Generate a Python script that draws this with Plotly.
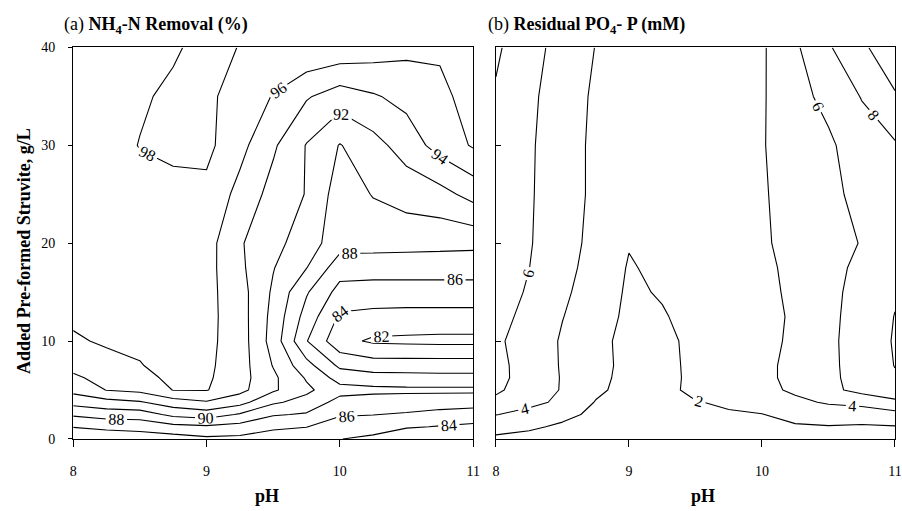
import plotly.graph_objects as go

# ---------------- data ----------------
PH = [8.0, 8.25, 8.5, 8.75, 9.0, 9.25, 9.5, 9.75, 10.0, 10.25, 10.5, 10.75, 11.0]
STRUVITE = [0, 1.25, 2.5, 3.75, 5, 6.25, 7.5, 10, 12.5, 15, 17.5, 20, 25, 30, 35, 40]
X_TICKS = [8, 9, 10, 11]
Y_TICKS = [0, 10, 20, 30, 40]

# (a) NH4-N removal (%) -- one list per struvite dose, values along PH
nh4_s0_00 = [84.3, 84.6, 84.9, 85.1, 85.6, 85.5, 85.2, 85.0, 84.05, 83.5, 82.5, 82.2, 82.1]
nh4_s1_25 = [86.1, 86.5, 86.7, 87.4, 87.7, 87.3, 86.3, 86.05, 85.0, 85.0, 84.2, 83.9, 83.6]
nh4_s2_50 = [88.3, 88.9, 89.0, 90.5, 91.0, 89.8, 88.2, 87.8, 86.2, 86.05, 85.8, 85.4, 85.1]
nh4_s3_75 = [90.7, 91.3, 91.8, 93.1, 93.8, 92.7, 90.3, 89.3, 87.3, 87.0, 87.0, 86.9, 86.8]
nh4_s5_00 = [92.6, 94.05, 94.5, 96.05, 96.1, 94.6, 92.3, 90.4, 88.7, 88.5, 88.4, 88.4, 88.4]
nh4_s6_25 = [93.7, 94.6, 95.3, 96.5, 96.3, 94.8, 92.4, 89.8, 87.2, 86.8, 86.7, 86.6, 86.6]
nh4_s7_50 = [94.5, 95.2, 95.9, 96.7, 96.4, 94.9, 91.9, 88.7, 85.6, 85.0, 85.0, 85.0, 85.0]
nh4_s10_0 = [95.7, 96.3, 96.4, 96.8, 96.5, 95.0, 91.2, 86.1, 82.6, 81.7, 81.6, 81.5, 81.5]
nh4_s12_5 = [96.4, 96.7, 96.7, 96.9, 96.6, 94.9, 91.4, 87.2, 83.7, 83.4, 83.3, 83.3, 83.3]
nh4_s15_0 = [96.7, 96.9, 96.9, 97.0, 96.6, 94.8, 91.7, 88.2, 85.3, 85.2, 85.2, 85.2, 85.2]
nh4_s17_5 = [96.9, 97.0, 97.0, 97.1, 96.7, 94.4, 92.1, 90.05, 86.9, 86.8, 86.8, 86.8, 86.8]
nh4_s20_0 = [97.0, 97.1, 97.1, 97.2, 96.8, 94.2, 92.6, 91.0, 88.8, 88.8, 88.7, 88.6, 88.5]
nh4_s25_0 = [97.2, 97.3, 97.5, 97.6, 97.5, 95.4, 93.3, 91.9, 89.0, 90.1, 90.8, 91.3, 92.7]
nh4_s30_0 = [97.3, 97.4, 98.05, 98.3, 98.5, 96.6, 94.3, 91.9, 89.9, 91.3, 92.9, 94.8, 96.2]
nh4_s35_0 = [97.4, 97.5, 97.8, 98.3, 98.4, 97.2, 95.9, 94.2, 93.0, 93.8, 94.6, 95.5, 96.8]
nh4_s40_0 = [97.5, 97.5, 97.6, 97.8, 98.5, 97.95, 97.5, 97.8, 97.5, 97.0, 96.5, 96.3, 97.0]

# (b) residual PO4-P (mM)
po4_s0_00 = [1.6, 1.4, 1.2, 1.0, 0.9, 0.9, 1.0, 1.1, 1.3, 1.4, 1.2, 1.2, 1.1]
po4_s1_25 = [2.8, 2.3, 1.7, 1.3, 1.0, 1.0, 1.2, 1.4, 1.6, 1.8, 1.9, 1.8, 1.9]
po4_s2_50 = [4.05, 3.5, 2.5, 1.6, 1.1, 1.1, 1.5, 1.8, 1.95, 2.6, 3.0, 2.9, 3.3]
po4_s3_75 = [5.4, 4.4, 3.7, 1.9, 1.2, 1.2, 1.9, 2.3, 2.8, 3.6, 4.2, 4.6, 5.6]
po4_s5_00 = [6.4, 4.8, 3.9, 2.4, 1.3, 1.4, 2.5, 2.6, 3.5, 4.3, 5.5, 6.6, 7.2]
po4_s6_25 = [6.7, 5.0, 3.9, 2.6, 1.35, 1.45, 2.4, 2.8, 3.65, 4.4, 5.6, 6.7, 7.8]
po4_s7_50 = [6.6, 5.1, 3.85, 2.7, 1.4, 1.5, 2.4, 2.9, 3.65, 4.4, 5.6, 6.8, 8.05]
po4_s10_0 = [6.3, 5.2, 3.8, 2.6, 1.4, 1.6, 2.4, 3.0, 3.6, 4.25, 5.6, 6.9, 8.15]
po4_s12_5 = [6.6, 5.5, 4.05, 3.0, 1.55, 1.85, 2.6, 3.1, 3.55, 4.2, 5.55, 6.8, 8.05]
po4_s15_0 = [6.9, 5.8, 4.3, 3.2, 1.7, 2.15, 2.75, 3.2, 3.6, 4.3, 5.55, 6.6, 7.8]
po4_s17_5 = [7.1, 6.02, 4.5, 3.4, 1.85, 2.4, 2.9, 3.3, 3.65, 4.4, 5.6, 6.3, 7.5]
po4_s20_0 = [7.2, 6.15, 4.7, 3.5, 2.1, 2.6, 3.0, 3.3, 3.75, 4.6, 5.6, 6.05, 7.2]
po4_s25_0 = [7.3, 6.2, 4.9, 3.6, 2.4, 2.9, 3.1, 3.4, 3.8, 4.8, 5.65, 6.4, 7.4]
po4_s30_0 = [7.5, 6.25, 4.9, 3.6, 2.6, 3.0, 3.2, 3.4, 3.85, 5.2, 5.7, 7.0, 7.8]
po4_s35_0 = [7.8, 6.4, 5.0, 3.7, 2.7, 3.1, 3.2, 3.4, 3.8, 5.4, 6.5, 8.1, 9.8]
po4_s40_0 = [8.3, 6.7, 5.3, 3.95, 2.8, 3.1, 3.2, 3.4, 3.75, 5.7, 7.8, 9.6, 11.5]

nh4 = [nh4_s0_00, nh4_s1_25, nh4_s2_50, nh4_s3_75, nh4_s5_00, nh4_s6_25, nh4_s7_50,
       nh4_s10_0, nh4_s12_5, nh4_s15_0, nh4_s17_5, nh4_s20_0, nh4_s25_0, nh4_s30_0,
       nh4_s35_0, nh4_s40_0]
po4 = [po4_s0_00, po4_s1_25, po4_s2_50, po4_s3_75, po4_s5_00, po4_s6_25, po4_s7_50,
       po4_s10_0, po4_s12_5, po4_s15_0, po4_s17_5, po4_s20_0, po4_s25_0, po4_s30_0,
       po4_s35_0, po4_s40_0]

# ---------------- figure ----------------
SERIF = "Liberation Serif"
W, H = 902, 511

label_font = dict(family=SERIF, size=16, color="black")
line_style = dict(color="black", width=1.1, smoothing=0)

fig = go.Figure()
fig.add_trace(go.Contour(
    x=PH, y=STRUVITE, z=nh4, autocontour=False,
    contours=dict(start=82, end=98, size=2, coloring="none",
                  showlabels=True, labelfont=label_font),
    line=line_style, showscale=False, hoverinfo="skip",
    xaxis="x", yaxis="y"))
fig.add_trace(go.Contour(
    x=PH, y=STRUVITE, z=po4, autocontour=False,
    contours=dict(start=2, end=10, size=2, coloring="none",
                  showlabels=True, labelfont=label_font),
    line=line_style, showscale=False, hoverinfo="skip",
    xaxis="x2", yaxis="y2"))

y_dom = [1 - 445 / H, 1 - 41.7 / H]
tickfont = dict(family=SERIF, size=14, color="black")
axis_common = dict(showgrid=False, zeroline=False, showline=True, linecolor="black",
                   linewidth=1, mirror=True, tickcolor="black", tickfont=tickfont)

fig.update_layout(
    width=W, height=H,
    margin=dict(l=0, r=0, t=0, b=0),
    paper_bgcolor="white", plot_bgcolor="white",
    showlegend=False,
    xaxis=dict(domain=[70 / W, 475 / W], range=[8, 11], tickvals=X_TICKS,
               ticks="outside", ticklen=7, anchor="y", ticklabelstandoff=12, **axis_common),
    yaxis=dict(domain=y_dom, range=[0, 40], tickvals=Y_TICKS,
               ticks="outside", ticklen=4, anchor="x", ticklabelstandoff=10, **axis_common),
    xaxis2=dict(domain=[498 / W, 1.0], range=[8, 11], tickvals=X_TICKS,
                ticks="outside", ticklen=7, anchor="y2", ticklabelstandoff=12, **axis_common),
    yaxis2=dict(domain=y_dom, range=[0, 40], tickvals=Y_TICKS, showticklabels=False,
                ticks="inside", ticklen=5, anchor="x2", **axis_common),
)

ann_font = dict(family=SERIF, size=18, color="black")
fig.add_annotation(text="(a) <b>NH<sub>4</sub>-N Removal (%)</b>", xref="paper", yref="paper",
                   x=59 / W, y=1 - 19 / H, xanchor="left", yanchor="middle",
                   showarrow=False, font=ann_font)
fig.add_annotation(text="(b) <b>Residual PO<sub>4</sub>- P (mM)</b>", xref="paper", yref="paper",
                   x=488 / W, y=1 - 19 / H, xanchor="left", yanchor="middle",
                   showarrow=False, font=ann_font)
fig.add_annotation(text="<b>Added Pre-formed Struvite, g/L</b>", xref="paper", yref="paper",
                   x=19.5 / W, y=1 - 251 / H, xanchor="center", yanchor="middle",
                   textangle=-90, showarrow=False, font=dict(family=SERIF, size=18, color="black"))
fig.add_annotation(text="<b>pH</b>", xref="paper", yref="paper",
                   x=266 / W, y=1 - 504 / H, xanchor="center", yanchor="middle",
                   showarrow=False, font=dict(family=SERIF, size=18, color="black"))
fig.add_annotation(text="<b>pH</b>", xref="paper", yref="paper",
                   x=708 / W, y=1 - 504 / H, xanchor="center", yanchor="middle",
                   showarrow=False, font=dict(family=SERIF, size=18, color="black"))

fig.write_html("out.html")
